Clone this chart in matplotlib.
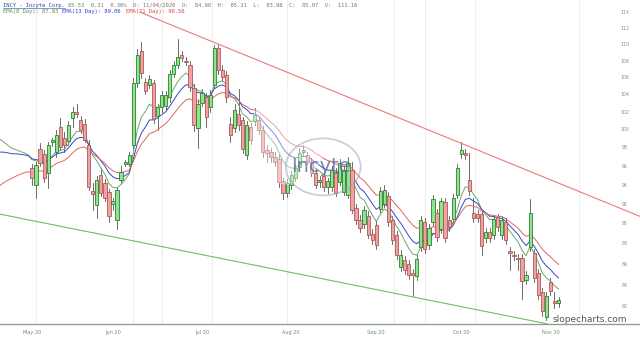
import numpy as np
import pandas as pd
import matplotlib
matplotlib.use("Agg")
import matplotlib.pyplot as plt
from matplotlib.patches import Rectangle, Ellipse
from matplotlib.lines import Line2D
from matplotlib.transforms import blended_transform_factory

# ---------------- data ----------------
opens = [95.8, 94.0, 97.9, 97.3, 95.3, 98.6, 97.5, 100.3, 99.1, 98.8,
         101.3, 102.0, 101.1, 100.7, 98.3, 93.4, 91.9, 95.1, 94.2, 93.3,
         92.0, 90.4, 94.5, 96.3, 96.3, 98.3, 105.4, 109.3, 105.5, 105.2,
         105.4, 101.6, 102.6, 102.7, 103.7, 106.5, 107.6, 108.7, 108.0, 107.6,
         104.8, 100.2, 103.1, 103.7, 102.6, 105.2, 109.6, 107.0, 106.4, 100.7,
         100.2, 101.8, 101.1, 97.2, 100.3, 101.0, 101.1, 100.0, 97.8, 97.5,
         97.0, 96.8, 94.4, 93.2, 94.0, 94.8, 95.9, 97.6, 97.2, 96.5,
         95.3, 94.3, 95.0, 93.8, 93.8, 95.3, 94.3, 93.3, 93.0, 95.6,
         91.6, 90.4, 90.0, 90.8, 89.0, 89.9, 91.5, 92.0, 92.9, 90.4,
         88.9, 85.8, 86.4, 86.0, 85.1, 84.9, 87.7, 90.2, 87.9, 90.2,
         91.1, 89.5, 92.2, 90.4, 90.5, 93.0, 97.3, 97.4, 94.5, 91.1,
         91.0, 91.0, 88.6, 89.2, 88.9, 90.7, 88.9, 90.2, 87.3, 86.9,
         86.6, 86.6, 84.5, 87.7, 87.1, 85.2, 83.4, 81.1, 84.3, 82.5,
         82.4]
highs = [96.3, 96.5, 98.5, 97.8, 98.6, 99.1, 100.0, 101.3, 99.8, 101.0,
         102.6, 103.0, 101.6, 101.2, 98.9, 94.2, 95.0, 95.8, 94.6, 93.6,
         92.7, 93.8, 96.0, 96.7, 97.6, 106.0, 109.5, 110.4, 106.0, 106.4,
         105.8, 103.0, 104.4, 104.5, 107.0, 108.0, 110.7, 109.2, 108.5, 108.0,
         105.3, 103.5, 104.7, 104.2, 104.6, 110.0, 110.0, 107.5, 106.8, 101.5,
         103.0, 104.7, 101.5, 101.0, 100.8, 102.5, 101.5, 100.4, 98.3, 98.0,
         97.5, 97.3, 94.8, 94.6, 95.5, 96.2, 98.0, 98.3, 97.6, 96.9,
         95.8, 95.0, 95.4, 94.8, 96.0, 95.8, 96.8, 96.0, 97.0, 96.5,
         92.0, 90.9, 91.8, 91.3, 89.5, 90.3, 93.8, 94.0, 93.3, 90.8,
         89.3, 87.4, 86.8, 86.4, 85.6, 86.9, 90.8, 90.6, 90.0, 93.0,
         91.5, 92.7, 92.6, 90.8, 93.1, 96.2, 98.6, 97.9, 97.4, 92.7,
         91.4, 91.4, 89.6, 89.6, 90.9, 91.0, 90.8, 90.6, 87.7, 87.3,
         87.0, 87.0, 85.4, 92.5, 87.5, 85.6, 83.8, 83.4, 84.7, 83.4,
         82.9]
lows = [94.0, 92.7, 96.0, 94.3, 93.7, 98.2, 97.0, 97.8, 97.6, 98.3,
        100.3, 101.5, 99.6, 98.6, 93.5, 91.4, 90.6, 92.9, 92.3, 90.2,
        91.4, 89.5, 94.2, 96.0, 96.0, 97.9, 104.9, 106.0, 104.1, 104.8,
        100.8, 100.0, 102.0, 102.3, 103.2, 106.1, 107.2, 108.0, 107.5, 104.5,
        99.9, 98.0, 102.7, 100.3, 102.0, 104.8, 106.5, 105.6, 103.2, 98.6,
        99.8, 100.0, 97.4, 96.8, 98.4, 100.5, 99.5, 97.0, 96.5, 96.5,
        96.0, 93.8, 92.5, 92.8, 93.6, 94.4, 95.5, 97.2, 96.2, 95.0,
        93.7, 93.8, 93.4, 93.2, 93.4, 92.9, 94.0, 93.0, 92.7, 91.1,
        90.0, 89.2, 89.6, 88.6, 88.0, 87.5, 91.2, 91.7, 89.8, 88.0,
        86.5, 85.4, 85.1, 84.6, 83.0, 84.5, 87.3, 87.1, 87.5, 89.8,
        88.3, 89.1, 88.2, 89.3, 90.1, 92.6, 96.9, 96.8, 93.0, 90.2,
        90.2, 86.9, 88.2, 88.2, 88.5, 89.3, 88.5, 88.0, 85.5, 86.4,
        85.5, 82.7, 84.1, 87.3, 84.3, 82.7, 81.2, 80.8, 83.1, 81.9,
        82.0]
closes = [94.8, 96.1, 96.4, 94.8, 98.3, 98.9, 99.4, 98.1, 98.3, 100.5,
          102.0, 101.8, 100.0, 98.9, 93.8, 93.1, 94.5, 93.2, 92.7, 90.8,
          92.3, 93.5, 95.4, 96.4, 97.2, 105.4, 108.8, 106.6, 104.4, 105.9,
          101.2, 102.6, 104.0, 104.0, 106.5, 107.6, 108.5, 108.4, 107.9, 104.9,
          100.5, 103.0, 104.2, 101.5, 104.0, 109.6, 106.9, 106.1, 103.7, 99.4,
          102.3, 100.5, 97.9, 100.5, 98.9, 101.7, 100.0, 97.6, 97.4, 97.0,
          96.5, 94.3, 93.2, 94.2, 95.1, 95.8, 97.4, 97.8, 96.6, 95.3,
          94.0, 94.5, 93.8, 94.4, 95.6, 93.2, 96.4, 95.6, 96.4, 91.4,
          90.4, 89.6, 91.4, 88.9, 88.4, 87.9, 93.4, 93.5, 90.2, 88.4,
          86.9, 86.9, 85.5, 85.0, 85.0, 86.5, 90.4, 87.5, 89.6, 92.5,
          88.7, 92.3, 88.6, 89.7, 92.7, 95.8, 97.8, 97.2, 93.4, 90.6,
          90.6, 87.8, 89.2, 88.6, 90.5, 89.7, 90.4, 88.4, 87.1, 86.8,
          86.5, 84.4, 85.0, 91.1, 84.7, 83.1, 81.6, 83.0, 83.5, 82.4,
          82.6]
# late-April closes (off the left edge, only feed the averages)
pre_closes = [97.2, 97.5, 97.0, 96.8, 97.3, 97.0, 96.9, 96.6]
ema_periods = [8, 13, 21]
ema_seeds = [99.5, 97.6, 93.6]
ema_colors = ["#6aa86a", "#3b45c8", "#e06666"]

holidays = ["2020-05-25", "2020-07-03", "2020-09-07"]
y_ticks = list(range(82, 116, 2))
# trend lines: (day index, price)
red_trend = [(26.7, 114.1), (150.5, 90.7)]
green_trend = [(-8.0, 91.0), (127.4, 80.45)]
grid_days = [1.0, 25.0, 32.0, 44.5, 63.0, 89.5, 97.0, 109.5, 135.0]

header1 = "INCY - Incyte Corp."
header1b = "85.53  0.31  0.36%  D: 11/04/2020  O:  84.90  H:  85.31  L:  83.98  C:  85.07  V:  111.16"
ema_labels = ["EMA(8 Day): 87.93", "EMA(13 Day): 89.06", "EMA(21 Day): 90.56"]

# ---------------- figure ----------------
W, H = 640, 338
fig = plt.figure(figsize=(W / 100, H / 100), dpi=100)
ax = fig.add_axes([0, 14 / H, 1, 1 - 14 / H])
ax.set_yscale("log")

n = len(closes)
dates = pd.bdate_range("2020-05-01", periods=n, freq="C", holidays=holidays)
x = np.arange(n)

spacing = 4.05
x0_px = 32
ax.set_xlim(-x0_px / spacing, (W - x0_px) / spacing)
ax.set_ylim(80.45, 115.67)

for g in grid_days:
    ax.axvline(g, color="#eeeeee", lw=0.8, zorder=0)

# EMAs
allc = pre_closes + closes
xa = np.arange(-len(pre_closes), n)
for p, s, c in zip(ema_periods, ema_seeds, ema_colors):
    k = 2 / (p + 1)
    e = []
    v = s
    for cl in allc:
        v = cl * k + v * (1 - k)
        e.append(v)
    ax.plot(xa, e, color=c, lw=0.7, zorder=3)

# candles
bw = 0.8
for i in range(n):
    o, h, l, c = opens[i], highs[i], lows[i], closes[i]
    up = c >= o
    fc = "#8de68d" if up else "#f3a0a0"
    ec = "#2f7f2f" if up else "#a85a5a"
    ax.plot([x[i], x[i]], [l, h], color="#555555", lw=0.6, zorder=2)
    lo, hi = min(o, c), max(o, c)
    if hi - lo < 0.15:
        hi = lo + 0.15
    ax.add_patch(Rectangle((x[i] - bw / 2, lo), bw, hi - lo, facecolor=fc,
                           edgecolor=ec, lw=0.6, zorder=4))

# trend lines
ax.plot([p[0] for p in red_trend], [p[1] for p in red_trend], color="#e87a7a", lw=0.8, zorder=5)
ax.plot([p[0] for p in green_trend], [p[1] for p in green_trend], color="#6cbf6c", lw=0.8, zorder=5)

# watermark logo
ax.add_patch(Ellipse((0.45, 0.58), 0.12, 0.3, transform=ax.transAxes,
                     facecolor="white", edgecolor="none", alpha=0.4, zorder=6))
ax.add_patch(Ellipse((0.505, 0.485), 0.117, 0.176, transform=ax.transAxes,
                     facecolor="none", edgecolor="#9aa0b8", lw=1.3, alpha=0.5, zorder=7))
ax.text(0.502, 0.485, "Incyte", transform=ax.transAxes, ha="center", va="center",
        fontsize=14, color="#5d6a9c", alpha=0.8, family="DejaVu Sans", zorder=8)

# axes styling
for s in ["top", "left", "right"]:
    ax.spines[s].set_visible(False)
ax.spines["bottom"].set_color("#999999")
ax.spines["bottom"].set_linewidth(1.0)
ax.yaxis.set_visible(False)
ax.minorticks_off()

month_idx = [i for i in range(n) if i == 0 or dates[i].month != dates[i - 1].month]
ax.set_xticks(month_idx)
ax.set_xticklabels([dates[i].strftime("%b %y") for i in month_idx], fontsize=3.6, color="#6b8f6b")
ax.tick_params(axis="x", length=0, pad=4)

tr = blended_transform_factory(ax.transAxes, ax.transData)
for t in y_ticks:
    ax.text(625 / W, t, str(t), transform=tr, ha="center", va="center",
            fontsize=3.3, color="#8a8a8a")

# header
mono = "DejaVu Sans Mono"
fig.text(3 / W, 1 - 5 / H, header1, fontsize=4, color="#3344aa", family=mono,
         va="center", ha="left")
fig.add_artist(Line2D([3 / W, 65 / W], [1 - 8 / H, 1 - 8 / H], color="#3344aa", lw=0.4))
fig.text(68 / W, 1 - 5 / H, header1b, fontsize=4, color="#777777", family=mono,
         va="center", ha="left")
xs = [3, 62, 126]
for xx, lab, c in zip(xs, ema_labels, ["#4a9a4a", "#3344cc", "#dd4444"]):
    fig.text(xx / W, 1 - 12 / H, lab, fontsize=4, color=c, family=mono,
             va="center", ha="left")

fig.text(553 / W, 1 - 319 / H, "slopecharts.com", fontsize=6.5, color="#555555",
         va="center", ha="left")

fig.savefig("out.png", dpi=100)
